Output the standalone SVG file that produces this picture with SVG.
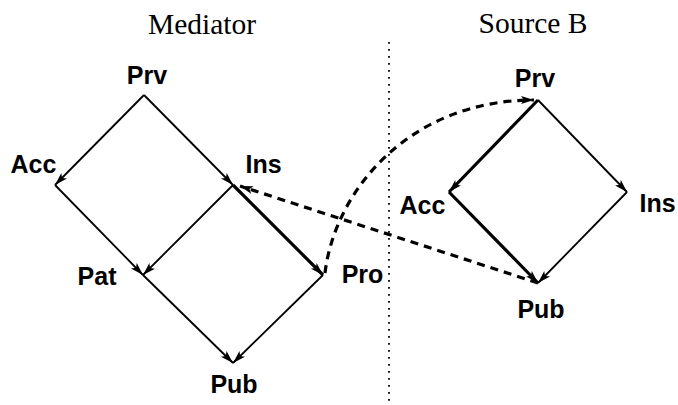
<svg xmlns="http://www.w3.org/2000/svg" width="678" height="405" viewBox="0 0 678 405">
<style>
.title{font-family:"Liberation Serif","Times New Roman",serif;font-size:29.5px;fill:#000;text-anchor:middle}
.lbl{font-family:"Liberation Sans",Arial,sans-serif;font-size:25px;font-weight:bold;fill:#000;text-anchor:middle}
.thin{stroke:#000;stroke-width:1.8;fill:none;marker-end:url(#ah)}
.thick{stroke:#000;stroke-width:3.2;fill:none;marker-end:url(#ah)}
.dash{stroke:#000;stroke-width:3.2;fill:none;stroke-dasharray:8 6}
.dot{stroke:#000;stroke-width:1.8;fill:none;stroke-dasharray:1.8 5.2}
</style>
<defs>
<marker id="ah" markerUnits="userSpaceOnUse" markerWidth="14" markerHeight="10" refX="13" refY="4.5" orient="auto">
<path d="M0,0.5 L13,4.5 L0,8.5 L3,4.5 z" fill="#000"/>
</marker>
</defs>
<rect width="678" height="405" fill="#fff"/>
<text class="title" x="202" y="34">Mediator</text>
<text class="title" x="533" y="33">Source B</text>
<line class="dot" x1="389" y1="42" x2="389" y2="405"/>
<g id="connectors">
<line class="thin" x1="144" y1="95" x2="55" y2="185"/>
<line class="thin" x1="144" y1="95" x2="233" y2="185"/>
<line class="thin" x1="55" y1="185" x2="143" y2="275"/>
<line class="thin" x1="233" y1="185" x2="143" y2="275"/>
<line class="thick" x1="233" y1="185" x2="323" y2="275"/>
<line class="thin" x1="143" y1="275" x2="233" y2="363"/>
<line class="thin" x1="323" y1="275" x2="233" y2="363"/>
<line class="thick" x1="538" y1="100" x2="449" y2="192"/>
<line class="thin" x1="538" y1="100" x2="627" y2="192"/>
<line class="thick" x1="449" y1="192" x2="538" y2="283"/>
<line class="thin" x1="627" y1="192" x2="538" y2="283"/>
<path class="dash" d="M325,273 C335,190 410,100 534,100" marker-end="url(#ah)"/>
<path class="dash" d="M538,283 L240,186" marker-end="url(#ah)"/>
</g>
<g id="m-prv"><text class="lbl" x="147" y="84">Prv</text></g>
<g id="m-acc"><text class="lbl" x="33.5" y="173">Acc</text></g>
<g id="m-ins"><text class="lbl" x="263.5" y="173">Ins</text></g>
<g id="m-pat"><text class="lbl" x="97" y="285">Pat</text></g>
<g id="m-pro"><text class="lbl" x="362.5" y="283">Pro</text></g>
<g id="m-pub"><text class="lbl" x="234" y="393">Pub</text></g>
<g id="b-prv"><text class="lbl" x="535" y="87">Prv</text></g>
<g id="b-acc"><text class="lbl" x="422.5" y="214">Acc</text></g>
<g id="b-ins"><text class="lbl" x="657.5" y="212">Ins</text></g>
<g id="b-pub"><text class="lbl" x="541" y="318">Pub</text></g>
</svg>
